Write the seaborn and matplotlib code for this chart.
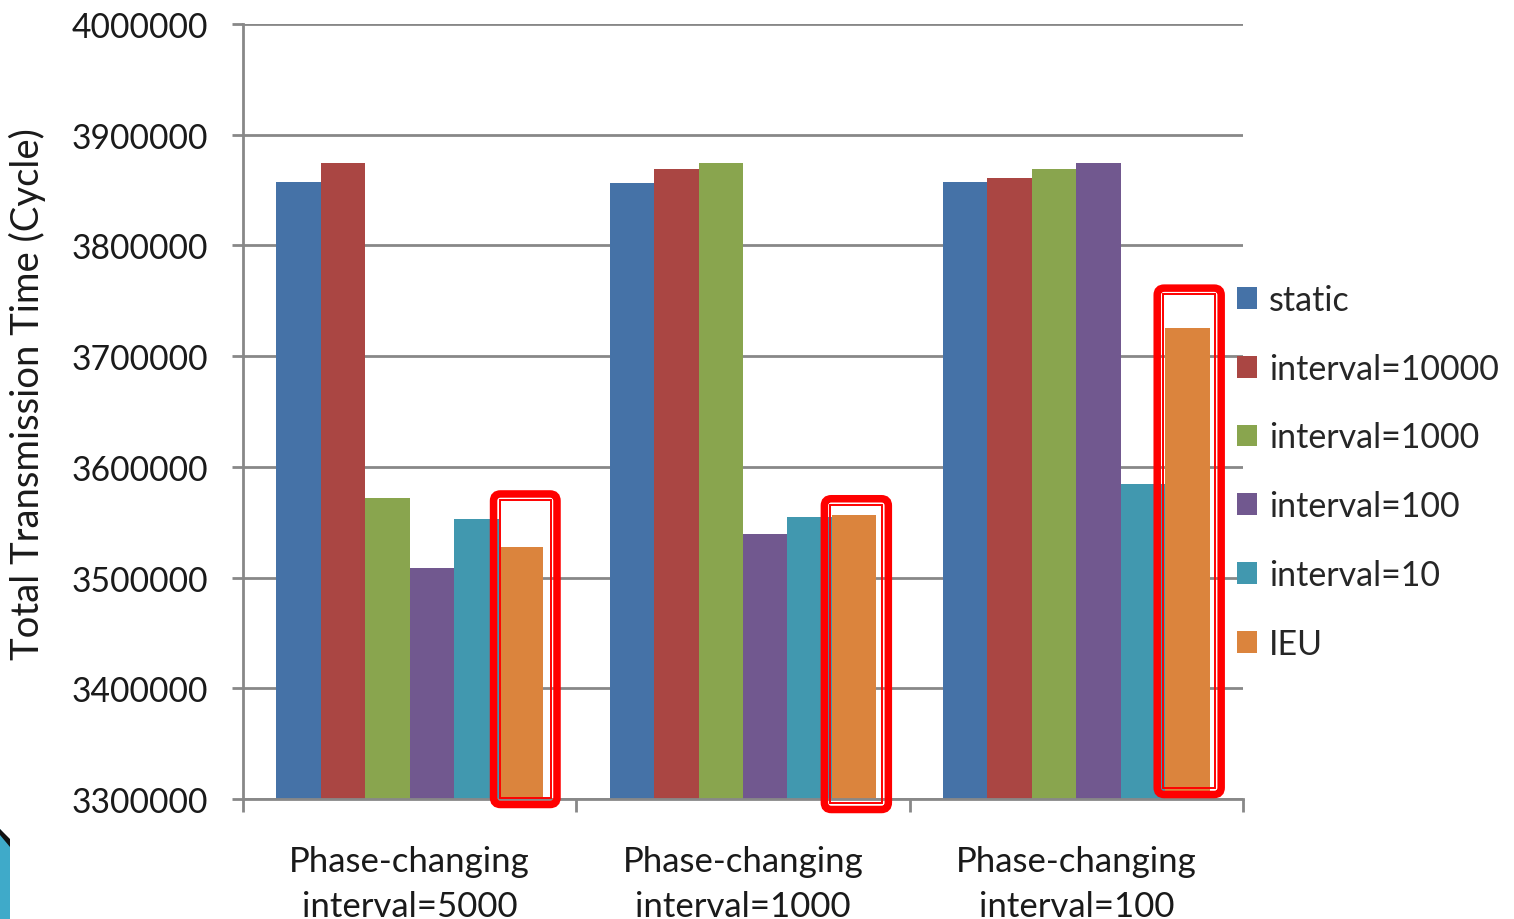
import matplotlib
matplotlib.use("Agg")
import matplotlib.pyplot as plt
import matplotlib.transforms as mtransforms
from matplotlib.patches import FancyBboxPatch, Rectangle, Polygon
import pandas as pd
import seaborn as sns

# Scenarios on the x axis
groups = ["Phase-changing\ninterval=5000",
          "Phase-changing\ninterval=1000",
          "Phase-changing\ninterval=100"]

# Policies compared in each scenario
series = ["static", "interval=10000", "interval=1000",
          "interval=100", "interval=10", "IEU"]

# Total transmission time (cycles) per policy, one value per scenario
static_vals = [3857500, 3856000, 3857500]
interval_10000 = [3874600, 3868600, 3861100]
interval_1000 = [3571700, 3874000, 3868600]
interval_100 = [3508800, 3539800, 3874000]
interval_10 = [3552700, 3554800, 3584900]
ieu_vals = [3527200, 3556300, 3725300]

y_ticks = [3300000, 3400000, 3500000, 3600000, 3700000, 3800000, 3900000, 4000000]

colors = ["#4572A7", "#AA4643", "#89A54E", "#71588F", "#4198AF", "#DB843D"]

columns = [static_vals, interval_10000, interval_1000, interval_100, interval_10, ieu_vals]
rows = []
for name, vals in zip(series, columns):
    for g, v in zip(groups, vals):
        rows.append({"scenario": g, "policy": name, "cycles": v})
df = pd.DataFrame(rows)

sns.set_theme(style="white")
plt.rcParams["font.family"] = ["Lato", "DejaVu Sans"]

W, H = 1514, 920
fig = plt.figure(figsize=(W / 100, H / 100), dpi=100)
ax = fig.add_axes([243 / W, 120 / H, 1000 / W, 775 / H])

grid_color = "#888888"
text_color = "#1a1a1a"
sns.barplot(data=df, x="scenario", y="cycles", hue="policy",
            order=groups, hue_order=series, palette=colors,
            saturation=1, width=0.8, gap=0, linewidth=0,
            ax=ax, zorder=2)

ax.set_ylim(y_ticks[0], y_ticks[-1])
ax.set_xlim(-0.5, len(groups) - 0.5)
ax.set_yticks(y_ticks)
ax.set_yticklabels([str(v) for v in y_ticks])
ax.set_axisbelow(True)
ax.yaxis.grid(True, color=grid_color, linewidth=2.0)
ax.xaxis.grid(False)

for side in ["top", "right"]:
    ax.spines[side].set_visible(False)
for side in ["left", "bottom"]:
    ax.spines[side].set_color(grid_color)
    ax.spines[side].set_linewidth(2.0)

ax.tick_params(axis="y", which="major", direction="out", length=8, width=2,
               color=grid_color, labelsize=24.2, labelcolor=text_color, pad=17, left=True)
ax.set_xticks(range(len(groups)))
ax.set_xticklabels(groups)
ax.set_xticks([i - 0.5 for i in range(len(groups) + 1)], minor=True)
ax.tick_params(axis="x", which="major", length=0, labelsize=25,
               labelcolor=text_color, pad=33)
ax.tick_params(axis="x", which="minor", direction="out", length=9, width=2,
               color=grid_color, bottom=True)
for lbl in ax.get_xticklabels():
    lbl.set_linespacing(1.5)

ax.set_xlabel("")
ax.set_ylabel("Total Transmission Time (Cycle)", fontsize=27.5, color=text_color)
ax.yaxis.set_label_coords(-0.197, 0.524)

# Legend to the right of the plot
handles, labels = ax.get_legend_handles_labels()
ax.legend(handles, labels, loc="upper left", frameon=False,
          bbox_to_anchor=(1237 / W, (H - 285) / H), bbox_transform=fig.transFigure,
          fontsize=24.5, handlelength=0.6, handleheight=0.6,
          handletextpad=0.33, labelspacing=1.08, borderpad=0, borderaxespad=0)

# Red double-line frames around the IEU bars
left_pad = [5, 7.5, 8]
right_pad = [14, 12, 11.5]
head_room = [53.5, 16.5, 40]
foot_room = [-5.5, -10.5, 4.5]
ident = mtransforms.IdentityTransform()
ieu_bars = ax.containers[-1].patches
for i, bar in enumerate(ieu_bars):
    x0 = bar.get_x()
    x1 = x0 + bar.get_width()
    (px0, py0), (px1, py1) = ax.transData.transform(
        [(x0, y_ticks[0]), (x1, bar.get_height())])
    ox0 = px0 - left_pad[i]
    ox1 = px1 + right_pad[i]
    oy0 = py0 + foot_room[i]
    oy1 = py1 + head_room[i]
    outer = FancyBboxPatch((ox0, oy0), ox1 - ox0, oy1 - oy0,
                           boxstyle="round,pad=0,rounding_size=7",
                           fill=False, edgecolor="#FF0000", linewidth=5.4,
                           transform=ident, zorder=5)
    inner = Rectangle((ox0 + 6, oy0 + 6), (ox1 - ox0) - 12, (oy1 - oy0) - 12,
                      fill=False, edgecolor="#FF0000", linewidth=1.4,
                      transform=ident, zorder=5)
    fig.add_artist(outer)
    fig.add_artist(inner)

# Slide corner ornament at the bottom left
fig.add_artist(Polygon([(0, 0), (10 / W, 0), (10 / W, (H - 842) / H), (0, (H - 830) / H)],
                       closed=True, facecolor="#3FAAC9", edgecolor="none",
                       transform=fig.transFigure))
fig.add_artist(Polygon([(0, (H - 836) / H), (10 / W, (H - 848) / H),
                        (10 / W, (H - 840) / H), (0, (H - 830) / H)],
                       closed=True, facecolor="#111111", edgecolor="none",
                       transform=fig.transFigure))

fig.savefig("out.png", dpi=100)
